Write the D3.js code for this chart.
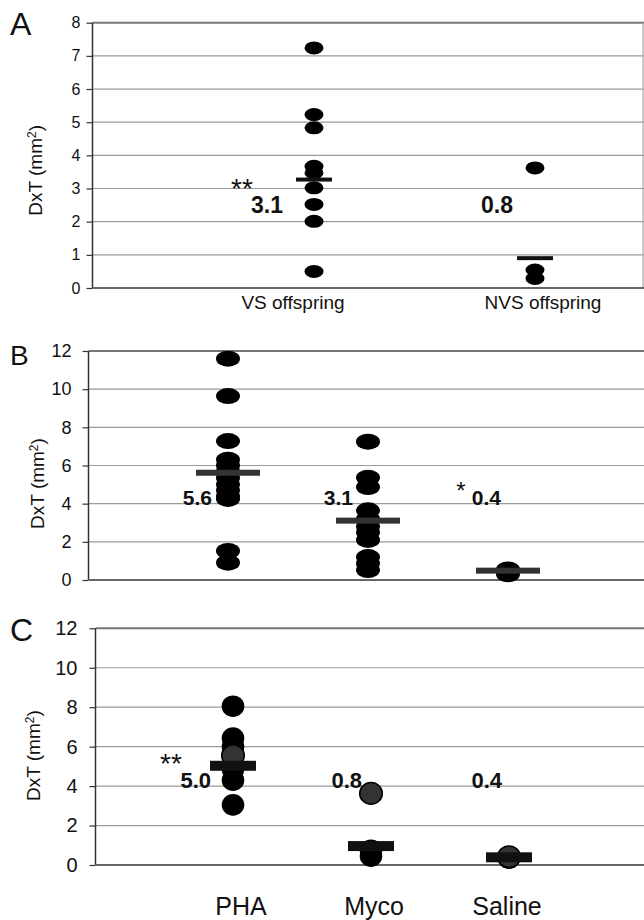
<!DOCTYPE html>
<html>
<head>
<meta charset="utf-8">
<script src="https://cdn.jsdelivr.net/npm/d3@7"></script>
<style>
  body { margin: 0; background: #fff; }
  svg { display: block; font-family: 'Liberation Sans', Arial, sans-serif; }
  .num { font-weight: bold; }
</style>
</head>
<body>
<svg width="644" height="920"></svg>
<script>
// panel A
var catsA = ['VS offspring', 'NVS offspring'];
var pointsA = [
  [7.24, 5.23, 4.83, 3.67, 3.47, 3.02, 2.52, 2.01, 0.5],
  [3.62, 0.54, 0.29]
];
var meansA = [3.27, 0.9];
var meanLabelsA = ['3.1', '0.8'];
var starsA = ['**', ''];
var ticksA = [0, 1, 2, 3, 4, 5, 6, 7, 8];

// panel B
var catsB = ['PHA', 'Myco', 'Saline'];
var pointsB = [
  [11.6, 9.64, 7.28, 6.3, 6.0, 5.7, 5.35, 5.0, 4.7, 4.4, 4.25, 1.52, 0.91],
  [7.25, 5.36, 4.87, 3.65, 3.2, 2.8, 2.5, 2.1, 1.2, 0.87, 0.52],
  [0.55, 0.42, 0.3]
];
var meansB = [5.62, 3.11, 0.49];
var meanLabelsB = ['5.6', '3.1', '0.4'];
var starsB = ['', '', '*'];
var ticksB = [0, 2, 4, 6, 8, 10, 12];

// panel C
var catsC = ['PHA', 'Myco', 'Saline'];
var pointsC = [
  [8.05, 6.43, 6.0, 4.85, 4.3, 3.05],
  [0.75, 0.45],
  [0.35]
];
var greyPointsC = [[5.55], [3.63], [0.42]];
var meansC = [5.03, 0.96, 0.39];
var meanLabelsC = ['5.0', '0.8', '0.4'];
var starsC = ['**', '', ''];
var ticksC = [0, 2, 4, 6, 8, 10, 12];

var svg = d3.select('svg');

function drawPanel(p) {
  var g = svg.append('g');
  var y = d3.scaleLinear().domain([0, p.max]).range([p.y0, p.y1]);
  var x = d3.scalePoint().domain(p.cats).range(p.xRange);

  // grid
  g.selectAll('line.grid')
    .data(p.ticks.filter(function (d) { return d > 0; }))
    .enter().append('line')
    .attr('x1', p.left).attr('x2', p.right)
    .attr('y1', function (d) { return y(d); })
    .attr('y2', function (d) { return y(d); })
    .attr('stroke', function (d) { return d === p.max ? '#777' : '#9a9a9a'; })
    .attr('stroke-width', function (d) { return d === p.max ? 2 : 1.2; });

  if (p.rightBorder) {
    g.append('line')
      .attr('x1', p.right - 1).attr('x2', p.right - 1)
      .attr('y1', y(p.max)).attr('y2', y(0))
      .attr('stroke', '#aaa').attr('stroke-width', 1.2);
  }

  // y axis
  var axis = d3.axisLeft(y).tickValues(p.ticks).tickSize(6).tickPadding(p.tickPad);
  var ax = g.append('g')
    .attr('transform', 'translate(' + p.left + ',0)')
    .call(axis);
  ax.select('.domain').remove();
  ax.selectAll('.tick line').attr('stroke', '#333').attr('stroke-width', 1.2);
  ax.selectAll('.tick text')
    .attr('fill', '#111')
    .style('font-size', p.tickFont + 'px')
    .style('font-family', "'Liberation Sans', Arial, sans-serif");

  g.append('line')
    .attr('x1', p.left).attr('x2', p.left)
    .attr('y1', y(p.max)).attr('y2', y(0))
    .attr('stroke', '#333').attr('stroke-width', 1.5);
  g.append('line')
    .attr('x1', p.left).attr('x2', p.right)
    .attr('y1', y(0)).attr('y2', y(0))
    .attr('stroke', '#666').attr('stroke-width', 2);

  // axis title
  var title = g.append('text')
    .attr('transform', 'translate(' + p.titleX + ',' + ((y(p.max) + y(0)) / 2 + p.titleDy) + ') rotate(-90)')
    .attr('text-anchor', 'middle')
    .attr('dy', '0.35em')
    .attr('fill', '#111')
    .style('font-size', '19px');
  title.append('tspan').text('DxT (mm');
  title.append('tspan').attr('dy', '-0.45em').style('font-size', '12px').text('2');
  title.append('tspan').attr('dy', '0.3em').text(')');

  // panel letter
  g.append('text')
    .attr('x', 10).attr('y', p.letterY)
    .attr('fill', '#111')
    .style('font-size', p.letterFont + 'px')
    .text(p.letter);

  // points
  p.cats.forEach(function (c, i) {
    g.selectAll(null)
      .data(p.points[i])
      .enter().append('ellipse')
      .attr('cx', x(c))
      .attr('cy', function (d) { return y(d); })
      .attr('rx', p.rx).attr('ry', p.ry)
      .attr('fill', '#000');
    if (p.greyPoints) {
      g.selectAll(null)
        .data(p.greyPoints[i])
        .enter().append('ellipse')
        .attr('cx', x(c))
        .attr('cy', function (d) { return y(d); })
        .attr('rx', p.rx).attr('ry', p.ry)
        .attr('fill', '#333').attr('stroke', '#000').attr('stroke-width', 1.5);
    }
  });

  // mean bars
  g.selectAll('rect.mean')
    .data(p.means)
    .enter().append('rect')
    .attr('x', function (d, i) { return x(p.cats[i]) - p.barW / 2; })
    .attr('y', function (d) { return y(d) - p.barH / 2; })
    .attr('width', p.barW).attr('height', p.barH)
    .attr('fill', p.barColor);

  // mean labels and stars
  g.selectAll('text.mean')
    .data(p.meanLabels)
    .enter().append('text')
    .attr('class', 'num')
    .attr('x', function (d, i) { return x(p.cats[i]) + p.labelDx[i]; })
    .attr('y', y(p.labelValue))
    .attr('dy', '0.36em')
    .attr('text-anchor', 'end')
    .attr('fill', '#111')
    .style('font-size', p.labelFont + 'px')
    .text(function (d) { return d; });

  g.selectAll('text.star')
    .data(p.stars)
    .enter().append('text')
    .attr('x', function (d, i) { return x(p.cats[i]) + p.starDx[i]; })
    .attr('y', y(p.labelValue) + p.starDy)
    .attr('text-anchor', 'middle')
    .attr('fill', '#111')
    .style('font-size', p.starFont + 'px')
    .text(function (d) { return d; });

  // category labels
  if (p.showCats) {
    var xl = d3.scalePoint().domain(p.cats).range(p.catLabelRange);
    g.selectAll('text.cat')
      .data(p.cats)
      .enter().append('text')
      .attr('x', function (d) { return xl(d); })
      .attr('y', p.catY)
      .attr('text-anchor', 'middle')
      .attr('fill', '#111')
      .style('font-size', p.catFont + 'px')
      .text(function (d) { return d; });
  }
}

drawPanel({
  letter: 'A', letterY: 35, letterFont: 32,
  cats: catsA, points: pointsA, means: meansA, meanLabels: meanLabelsA, stars: starsA,
  ticks: ticksA, max: 8, y0: 288, y1: 22.7, left: 92.5, right: 644, rightBorder: true,
  xRange: [314, 535], tickFont: 16, tickPad: 6, titleX: 35, titleDy: 15,
  rx: 9.5, ry: 6.5, barW: 36, barH: 4, barColor: '#111',
  labelValue: 2.5, labelDx: [-31, -22], labelFont: 23,
  starDx: [-72, 0], starDy: -7, starFont: 28,
  showCats: true, catLabelRange: [293, 543], catY: 309, catFont: 19
});

drawPanel({
  letter: 'B', letterY: 365, letterFont: 28,
  cats: catsB, points: pointsB, means: meansB, meanLabels: meanLabelsB, stars: starsB,
  ticks: ticksB, max: 12, y0: 580, y1: 351, left: 88.5, right: 644, rightBorder: false,
  xRange: [228, 508], tickFont: 18, tickPad: 11, titleX: 37, titleDy: 18,
  rx: 12, ry: 8, barW: 64, barH: 6, barColor: '#333',
  labelValue: 4.35, labelDx: [-16, -15, -7], labelFont: 21,
  starDx: [0, 0, -47], starDy: 2, starFont: 24,
  showCats: false
});

drawPanel({
  letter: 'C', letterY: 641, letterFont: 32,
  cats: catsC, points: pointsC, greyPoints: greyPointsC, means: meansC, meanLabels: meanLabelsC, stars: starsC,
  ticks: ticksC, max: 12, y0: 865, y1: 628.3, left: 95.5, right: 644, rightBorder: false,
  xRange: [233, 509], tickFont: 20, tickPad: 12, titleX: 33, titleDy: 9,
  rx: 11.3, ry: 10.8, barW: 46, barH: 10, barColor: '#111',
  labelValue: 4.3, labelDx: [-22, -9, -7], labelFont: 22,
  starDx: [-62, 0, 0], starDy: -7, starFont: 28,
  showCats: true, catLabelRange: [241, 507], catY: 915, catFont: 25
});
</script>
</body>
</html>
